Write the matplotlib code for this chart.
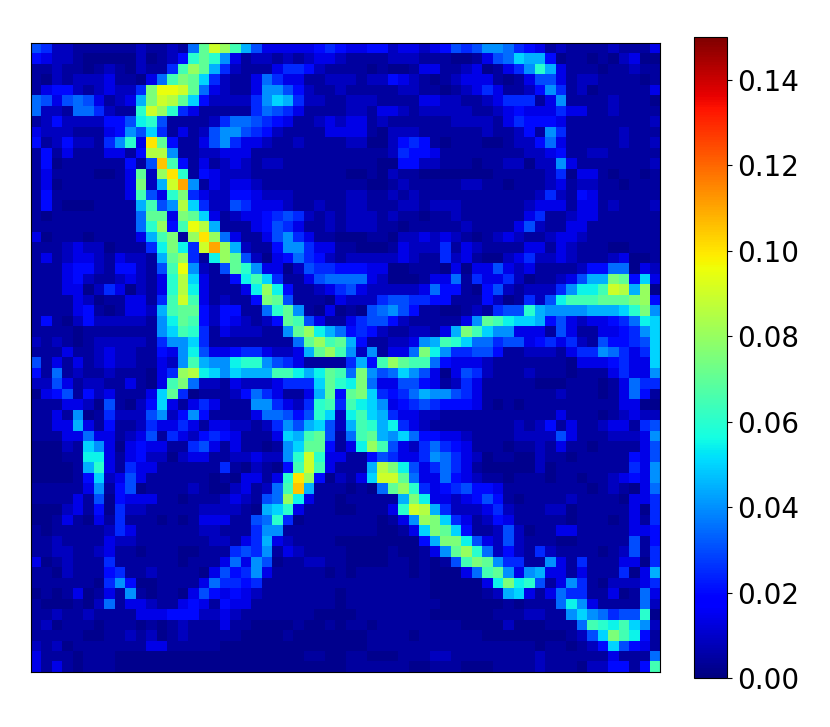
import matplotlib
matplotlib.use('Agg')
import matplotlib.pyplot as plt
import numpy as np

# Cell levels, one base-36 character per cell, 1 level = 0.005
STEP = 0.005
# the darkest blues sit a bit under the plain step
LOW_LEVELS = [0.0018, 0.0042, 0.0085, 0.0135]

top_left = [
    "6522111111 211217eigd 9633333454",
    "4322100000 20124cec83 1221212332",
    "1121101210 2115dge952 1113554211",
    "1021222311 037dfea521 1375331122",
    "1344212322 5fjjie7321 1388642112",
    "7636763123 9fihea4222 258a952211",
    "7221775211 cigc531111 1576531111",
    "1242222446 bc61111257 7654311232",
    "3222111348 6a51312688 6542111133",
    "412422158c 3ke4113685 3321121111",
    "1413111331 4hh8112233 3111111111",
    "1401111114 16ld413123 2122111111",
    "1311110013 e2gkc14322 2111111111",
    "1301111113 f29im81323 3211111111",
    "1411111113 d63cf53224 4322211111",
    "1410001111 9d68ha5226 5333211211",
    "1011111111 7ee3fea312 3345652121",
    "1111111111 7cg4djh911 1346531121",
    "3011101111 39df1gkg73 1136853110",
    "1112322011 15bfb5img9 2114885331",
    "1312332132 219eg51bge 6203475421",
    "1113442144 216dj8216e c833026554",
    "1113421123 213cha3114 bda5113677",
    "1113302530 213chb3111 3bgb411235",
    "1111320113 315did3121 14fe611103",
    "1111341013 329dee4244 117ce81030",
    "1410242222 218bed4243 2124ed6311",
    "1111011111 118adc5132 22118egb97",
    "2121012222 21588a5111 111117egde",
    "1113112322 11438b6334 5532239egd",
]

top_right = [
    "3344233234 6568875431 2111121113",
    "1111222111 001367a994 0110102300",
    "1101001331 12301358c9 3111011211",
    "2122432101 2333101366 3122111101",
    "1111122110 1235311248 5120111113",
    "2221111332 2112355513 8111121110",
    "2213321222 2211234333 5331121111",
    "3312111111 2222135444 3111111112",
    "3310222111 1112112418 5111112111",
    "2200245410 1110012247 3111112112",
    "1111254431 1111111223 4112211111",
    "1110044221 1101122022 8311111112",
    "0010211000 0000111112 5033101101",
    "1100121111 1221101112 3122110111",
    "2211212111 1111111125 2143111111",
    "2211122122 2111111233 3133121112",
    "2221211011 2111111351 1233111111",
    "2221101111 1211113621 1331111111",
    "0011022323 2101232112 3321111111",
    "1000132225 1321111331 3211100111",
    "2222232115 2310023522 3211123001",
    "4433001110 3033632311 1124477032",
    "7732000133 7153352011 23699fe4a3",
    "6322222374 4104621222 58bbdih9g0",
    "2225665544 1114201526 bdddeeefg4",
    "1067864110 0121566c98 888999acf8",
    "3566421111 138edbaa94 63233457ba",
    "4542112213 9fda883331 631133458a",
    "941122389d ca77566345 352164456a",
    "8281337fb8 5566411222 135587535a",
]

bottom_left = [
    "6131312322 11328d988b cc86531111",
    "4171211211 1035ghba8a 999ddb9bed",
    "2263122113 103df72213 2223555aec",
    "0346142311 13ae501112 47531139e4",
    "1113320610 24a3135311 1885325cd5",
    "1131801522 2682484111 1377646ca2",
    "1133931411 2533531332 2125869a62",
    "1113373312 3615324543 1113a9de61",
    "00021a8303 4331156313 11018aee41",
    "00011bb313 4220233112 23228cic33",
    "000019c315 3311111151 02104did31",
    "000014a236 3111111010 3313ckg402",
    "1111138146 0111121002 3127dl9111",
    "1111316043 3311011123 2167gb3110",
    "0002314052 2111112222 109ac31110",
    "0013103151 1101013331 167c501111",
    "1011111253 1111112211 1588111111",
    "1121111322 1111111221 3593211110",
    "1122112311 0111001115 6581321111",
    "3012111511 1111011137 3860112211",
    "1102111451 1211110364 5831111101",
    "1111110584 0011113755 4511111111",
    "0101301318 1011036434 3211111110",
    "1000102713 3211343143 3111111110",
    "1121121111 3334442232 1111111000",
    "1201110111 0101211131 1000010010",
    "1111100112 1201211111 0000100000",
    "2120111111 1331111100 0000000000",
    "3111011100 0000000000 0000001100",
    "3131011100 0000000000 0000000000",
]

bottom_right = [
    "594dgedd74 3332111111 103334533a",
    "7f867a8630 3652111211 1011135338",
    "bf73366431 2531111100 0111013755",
    "efa5457988 6531111111 2111013741",
    "dba8345654 4431010111 1111113300",
    "bda9533221 1111111111 3111012322",
    "9dc9b53211 1111112124 1311233156",
    "7de98a7443 3211112222 6311122238",
    "3bgd632575 4311101121 3110111136",
    "1146533587 5320110021 1011111436",
    "119hfb6357 5310000020 1111111538",
    "13aiie7337 4321101110 1101123438",
    "0107egc534 5644311111 1110121037",
    "111119fb33 2346410111 1211110335",
    "01113cih95 2223521112 2011111305",
    "1110138gfa 5312431111 1011101315",
    "1110013afe a411262011 3311111334",
    "000000049f fb63262111 0011111614",
    "0000100138 egc7242152 1111012615",
    "0000110101 6dfe855118 3151113305",
    "0111110100 037de83893 3131115039",
    "1111111100 0003bfbc61 3851022235",
    "1111111100 000129a313 7551130173",
    "1111111110 0000010111 7b83111172",
    "0111111100 0000111221 18a87566c0",
    "1101111111 1000020001 117dcbda82",
    "0011110111 1110000000 0126afdb41",
    "0011111111 1111111101 10124a6431",
    "1100011122 1111111121 1111131117",
    "1111110011 1000111121 110224414d",
]

cbar_ticks = [0.0, 0.02, 0.04, 0.06, 0.08, 0.10, 0.12, 0.14]


def level(c):
    n = int(c, 36)
    return LOW_LEVELS[n] if n < len(LOW_LEVELS) else n * STEP


def decode(rows):
    return [[level(c) for c in r.replace(" ", "")] for r in rows]


grid = np.vstack([
    np.hstack([decode(top_left), decode(top_right)]),
    np.hstack([decode(bottom_left), decode(bottom_right)]),
])

W, H = 830, 727
fig = plt.figure(figsize=(W / 100, H / 100), dpi=100, facecolor="white")
ax = fig.add_axes([31 / W, (H - 672) / H, 629 / W, 629 / H])
im = ax.imshow(grid, cmap="jet", vmin=0, vmax=0.15, interpolation="nearest", aspect="auto")
ax.set_xticks([])
ax.set_yticks([])

cax = fig.add_axes([694 / W, (H - 678) / H, 33 / W, 641 / H])
cb = fig.colorbar(im, cax=cax)
cb.set_ticks(cbar_ticks)
cb.ax.set_yticklabels([f"{t:.2f}" for t in cbar_ticks])
cb.ax.tick_params(labelsize=20)

fig.savefig("out.png", dpi=100)
